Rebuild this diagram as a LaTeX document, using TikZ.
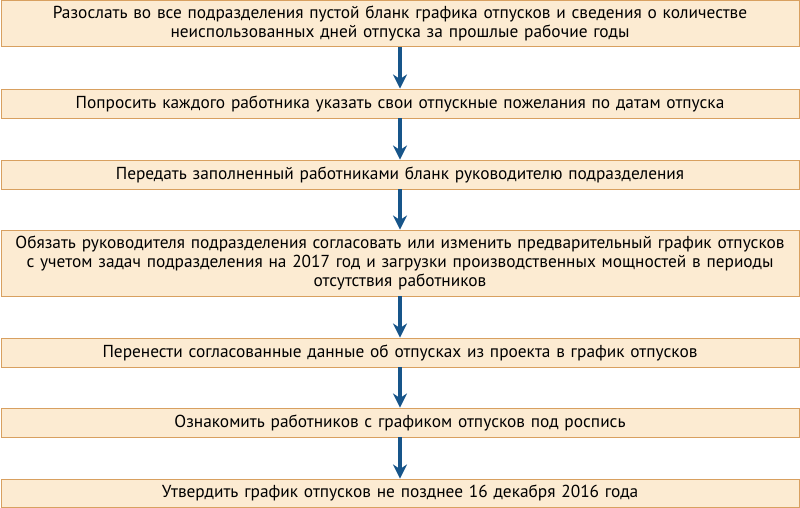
\documentclass[tikz,border=0pt]{standalone}
\usepackage{fontspec}
\setmainfont{PT Sans}
\usetikzlibrary{arrows.meta,positioning}
\definecolor{stepfill}{HTML}{FCEBD2}
\definecolor{stepline}{HTML}{D8A060}
\definecolor{arrowblue}{HTML}{17558A}
\tikzset{
    >={Stealth[length=12pt,width=12pt]},
    stepbox/.style={rectangle,draw=stepline,fill=stepfill,line width=0.8pt,
        minimum width=23.94cm,text width=23.5cm,align=center,inner sep=1pt,
        font=\fontsize{14.8}{16.2}\selectfont},
    flow/.style={->,draw=arrowblue,line width=2.6pt}
}
\begin{document}
\begin{tikzpicture}
    \useasboundingbox (0,0) rectangle (24,-15.21);
    % steps
    \node[stepbox,minimum height=1.38cm] (s1) at (12,-0.705)
        {Разослать во все подразделения пустой бланк графика отпусков и сведения о количестве\\
         неиспользованных дней отпуска за прошлые рабочие годы};
    \node[stepbox,minimum height=0.87cm] (s2) at (12,-3.105)
        {Попросить каждого работника указать свои отпускные пожелания по датам отпуска};
    \node[stepbox,minimum height=0.87cm] (s3) at (12,-5.235)
        {Передать заполненный работниками бланк руководителю подразделения};
    \node[stepbox,minimum height=1.98cm] (s4) at (12,-7.89)
        {Обязать руководителя подразделения согласовать или изменить предварительный график отпусков\\
         с учетом задач подразделения на 2017 год и загрузки производственных мощностей в периоды\\
         отсутствия работников};
    \node[stepbox,minimum height=0.87cm] (s5) at (12,-10.575)
        {Перенести согласованные данные об отпусках из проекта в график отпусков};
    \node[stepbox,minimum height=0.87cm] (s6) at (12,-12.675)
        {Ознакомить работников с графиком отпусков под роспись};
    \node[stepbox,minimum height=0.84cm] (s7) at (12,-14.79)
        {Утвердить график отпусков не позднее 16 декабря 2016 года};
    % arrows
    \foreach \a/\b in {s1/s2,s2/s3,s3/s4,s4/s5,s5/s6,s6/s7}
        \draw[flow] (\a) -- (\b);
\end{tikzpicture}
\end{document}
